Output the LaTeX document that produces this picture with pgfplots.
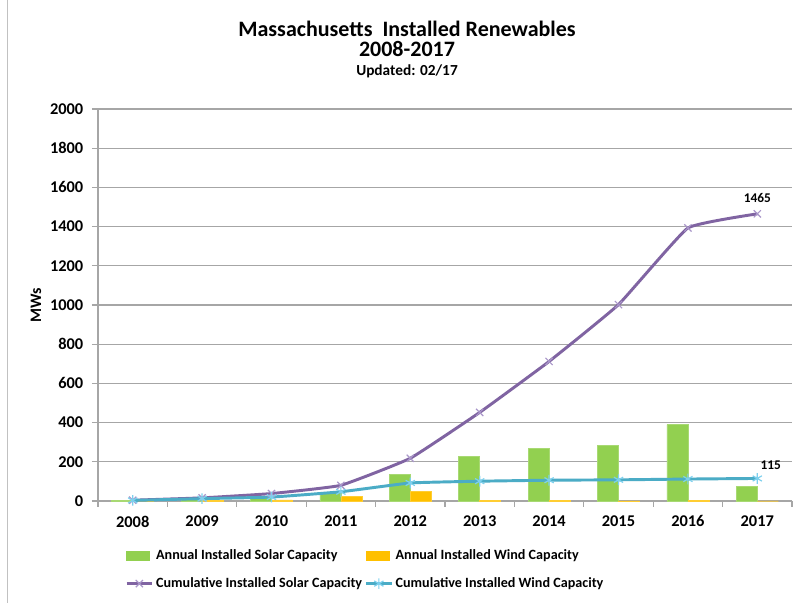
\documentclass[border=0pt]{standalone}
\usepackage{fontspec}
\setmainfont{Carlito}
\usepackage{pgfplots}
\pgfplotsset{compat=1.18}
\definecolor{solarbar}{HTML}{92D050}
\definecolor{windbar}{HTML}{FFC000}
\definecolor{solarline}{HTML}{8064A2}
\definecolor{solarmark}{HTML}{A996C9}
\definecolor{windline}{HTML}{4BACC6}
\definecolor{windmark}{HTML}{7DD0EE}
\definecolor{gridgray}{HTML}{A6A6A6}
\begin{document}
\begin{tikzpicture}[x=0.75pt,y=0.75pt]
\fill[white] (0,0) rectangle (794,603);
\useasboundingbox (0,0) rectangle (794,603);
\draw[gridgray!70, line width=0.6pt] (7,0) -- (7,603);
\node[anchor=base, font=\fontsize{16.5}{19}\selectfont\bfseries] at (407,566) {Massachusetts\ \ Installed Renewables};
\node[anchor=base, font=\fontsize{16.5}{19}\selectfont\bfseries] at (407,546) {2008-2017};
\node[anchor=base, font=\fontsize{11.5}{13}\selectfont\bfseries] at (407,527) {Updated: 02/17};
\begin{axis}[
  at={(73.5pt,76.5pt)}, anchor=south west,
  scale only axis, width=520.5pt, height=294pt,
  xmin=-0.5, xmax=9.5, ymin=0, ymax=2000,
  clip=false,
  axis lines=left,
  axis line style={-, gridgray, line width=0.8pt},
  xtick={0,...,9},
  xticklabels={2008,2009,2010,2011,2012,2013,2014,2015,2016,2017},
  major x tick style={draw=none},
  minor xtick={-0.5,0.5,...,9.5},
  minor x tick style={gridgray, line width=0.8pt},
  minor tick length=4.5pt,
  ytick={0,200,...,2000},
  ytick style={gridgray, line width=0.8pt},
  major tick length=4.5pt,
  tick align=outside,
  ymajorgrids,
  grid style={gridgray, line width=0.8pt},
  tick label style={font=\fontsize{12.3}{14}\selectfont\bfseries},
  yticklabel style={xshift=-3pt},
  xticklabel style={yshift=-3pt},
  /pgf/number format/assume math mode=true,
  /pgf/number format/1000 sep={},
  ylabel={MWs},
  ylabel style={font=\fontsize{12}{14}\selectfont\bfseries, at={(axis description cs:-0.0893,0.5)}, anchor=center},
  legend columns=2,
  legend cell align=left,
  legend style={draw=none, fill=none, at={(axis description cs:0.033,-0.11)}, anchor=north west,
    font=\fontsize{10.6}{12}\selectfont\bfseries, row sep=8pt,
    nodes={inner xsep=2pt},
    /tikz/every even column/.append style={column sep=0pt}},
  legend image code/.code={\draw[mark repeat=2,mark phase=2,#1] plot coordinates {(0pt,0pt) (9.5pt,0pt) (19pt,0pt)};},
]
\addplot[ybar, bar width=15.75pt, bar shift=-7.875pt, fill=solarbar, draw=solarbar!80!white,
  legend image code/.code={\fill[solarbar] (0pt,-3.4pt) rectangle (17pt,3.4pt);}]
  coordinates {(0,4) (1,12) (2,20) (3,44) (4,136) (5,226) (6,268) (7,285) (8,390) (9,73)};
\addlegendentry{Annual Installed Solar Capacity}
\addplot[ybar, bar width=15.75pt, bar shift=7.875pt, fill=windbar, draw=windbar!80!white,
  legend image code/.code={\fill[windbar] (0pt,-3.4pt) rectangle (17pt,3.4pt);}]
  coordinates {(0,1) (1,2) (2,6) (3,25) (4,50) (5,4) (6,5) (7,1) (8,5) (9,0)};
\addlegendentry{Annual Installed Wind Capacity}
\addplot[solarline, line width=2.2pt, smooth, tension=0.2, mark=x, mark size=3.8pt,
  mark options={solarmark, line width=0.9pt}]
  coordinates {(0,4) (1,16) (2,38) (3,80) (4,218) (5,452) (6,712) (7,1002) (8,1393) (9,1465)};
\addlegendentry{Cumulative Installed Solar Capacity}
\addplot[windline, line width=2.2pt, smooth, tension=0.2, mark=asterisk, mark size=4pt,
  mark options={windmark, line width=0.9pt}]
  coordinates {(0,3) (1,12) (2,20) (3,47) (4,92) (5,101) (6,106) (7,108) (8,112) (9,115)};
\addlegendentry{Cumulative Installed Wind Capacity}
\addplot[draw=none, forget plot, nodes near coords, point meta=explicit symbolic,
  nodes near coords style={font=\fontsize{10}{12}\selectfont\bfseries, anchor=south, yshift=5pt}]
  coordinates {(9,1465) [1465]};
\addplot[draw=none, forget plot, nodes near coords, point meta=explicit symbolic,
  nodes near coords style={font=\fontsize{10}{12}\selectfont\bfseries, anchor=south west, xshift=-1pt, yshift=3pt}]
  coordinates {(9,115) [115]};
\end{axis}
\end{tikzpicture}
\end{document}
